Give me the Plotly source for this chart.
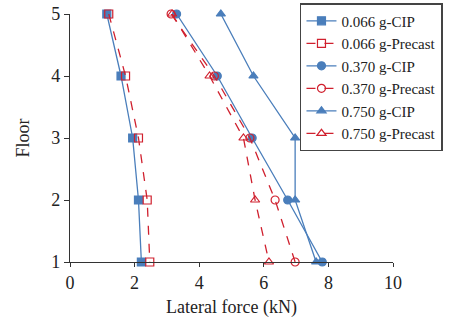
import plotly.graph_objects as go

floors = [5, 4, 3, 2, 1]
cip_066 = [1.14, 1.58, 1.94, 2.12, 2.21]
pre_066 = [1.20, 1.72, 2.12, 2.39, 2.47]
cip_370 = [3.30, 4.56, 5.64, 6.74, 7.81]
pre_370 = [3.13, 4.47, 5.57, 6.35, 6.97]
cip_750 = [4.67, 5.68, 6.97, 6.97, 7.62]
pre_750 = [3.16, 4.32, 5.37, 5.73, 6.16]

names = ["0.066 g-CIP", "0.066 g-Precast", "0.370 g-CIP", "0.370 g-Precast", "0.750 g-CIP", "0.750 g-Precast"]
series = [cip_066, pre_066, cip_370, pre_370, cip_750, pre_750]
symbols = ["square", "square-open", "circle", "circle-open", "triangle-up", "triangle-up-open"]

BLUE = "#4a7ebb"
RED = "#d0202e"

fig = go.Figure()
for i, (nm, xs, sym) in enumerate(zip(names, series, symbols)):
    cip = i % 2 == 0
    fig.add_trace(go.Scatter(
        x=xs, y=floors, name=nm, mode="lines+markers",
        line=dict(color=BLUE if cip else RED, width=1.3, dash="solid" if cip else "dash"),
        marker=dict(symbol=sym, size=8, color=BLUE if cip else RED,
                    line=dict(color=BLUE if cip else RED, width=1.2)),
        cliponaxis=False,
    ))

font = "Liberation Serif"
fig.update_layout(
    width=466, height=323,
    margin=dict(l=70, r=73, t=14, b=61, autoexpand=False),
    paper_bgcolor="white", plot_bgcolor="white",
    font=dict(family=font, size=18, color="#222"),
    showlegend=True,
    legend=dict(x=0.712, y=1.044, xanchor="left", yanchor="top",
                bordercolor="#444", borderwidth=1.5, bgcolor="white",
                font=dict(family=font, size=15, color="#222"),
                tracegroupgap=0, itemwidth=30),
    xaxis=dict(range=[0, 10], tickvals=[0, 2, 4, 6, 8, 10], showgrid=False, zeroline=False,
               showline=True, linecolor="#333", linewidth=1.3, ticks="outside", ticklen=4,
               tickcolor="#333", automargin=False,
               title=dict(text="Lateral force (kN)", font=dict(family=font, size=18), standoff=8)),
    yaxis=dict(range=[1, 5], tickvals=[1, 2, 3, 4, 5], showgrid=False, zeroline=False,
               showline=True, linecolor="#333", linewidth=1.3, ticks="outside", ticklen=5,
               tickcolor="#333", automargin=False,
               title=dict(text="Floor", font=dict(family=font, size=18), standoff=16)),
)

fig.write_html("out.html", config={"displayModeBar": False},
               post_script="document.body.style.margin='0';")
